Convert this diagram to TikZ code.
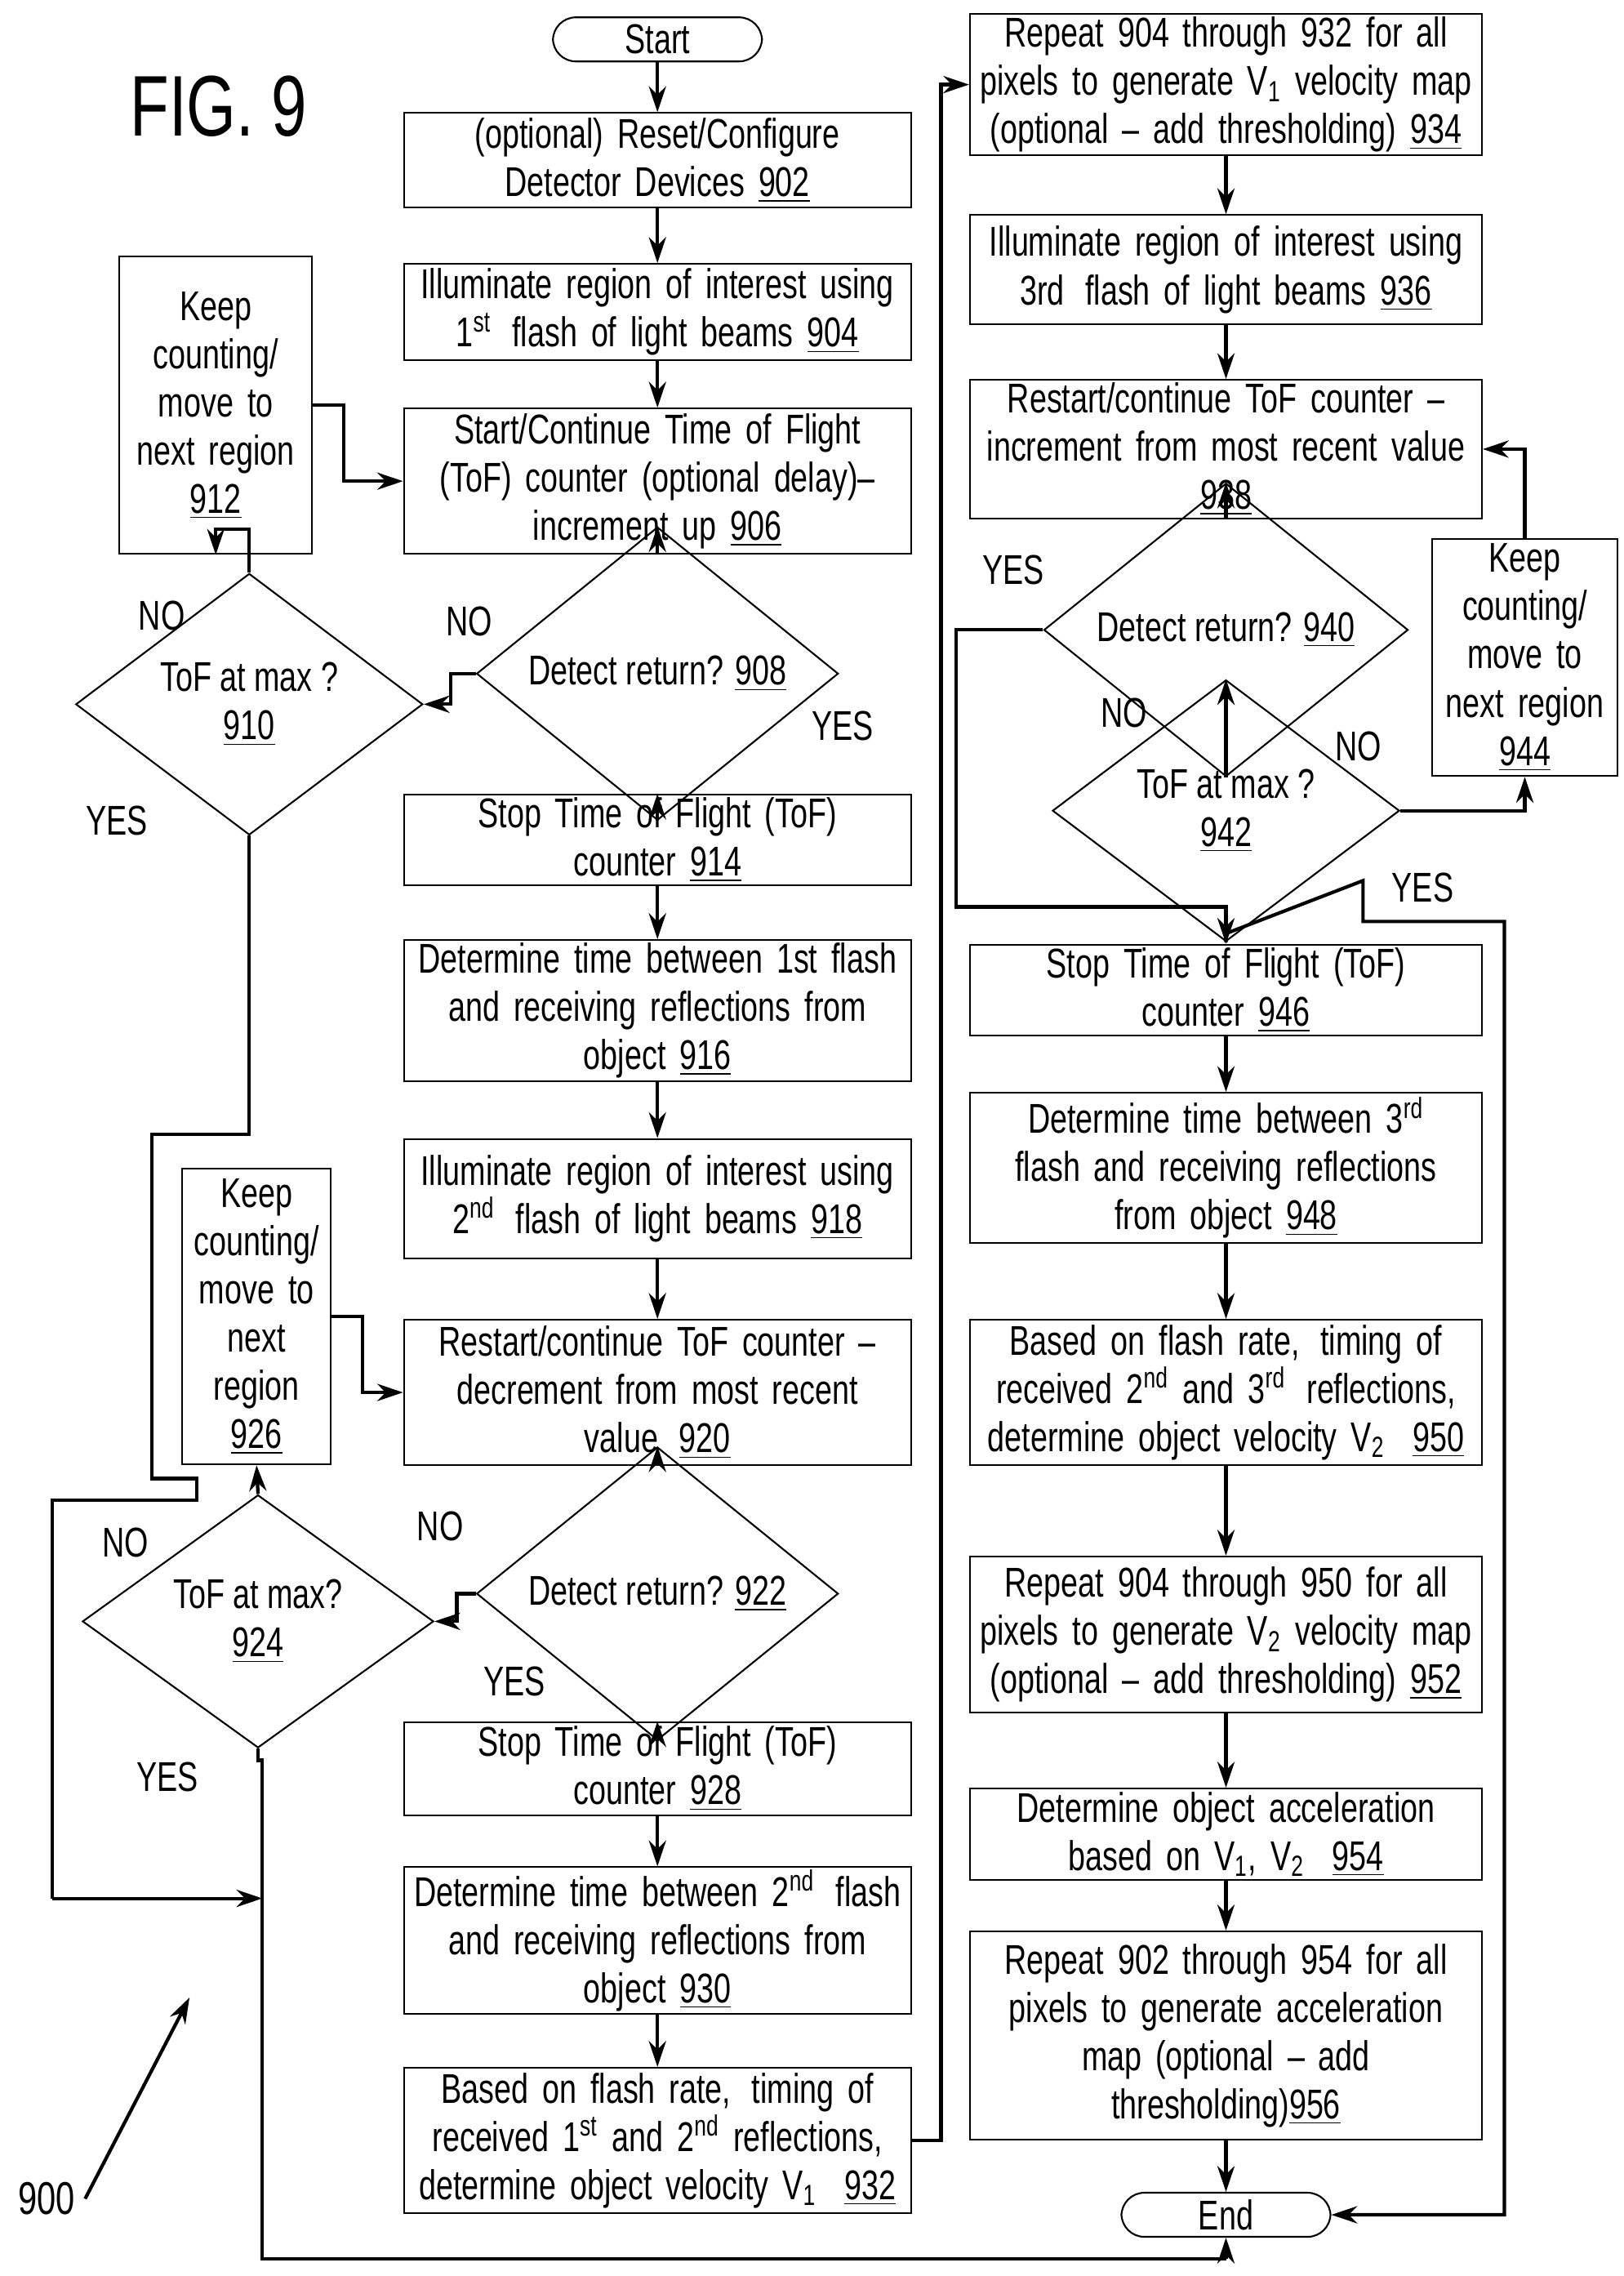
\documentclass[tikz,border=0pt]{standalone}
\usepackage{fontspec}
\setmainfont{Liberation Sans}[FakeStretch=0.74]
\usetikzlibrary{arrows.meta, shapes.geometric, calc}

\begin{document}
\begin{tikzpicture}[
  x=0.01785cm, y=-0.01785cm,
  font=\fontsize{14.5}{16.8}\selectfont,
  box/.style={draw, line width=0.6pt, align=center, inner sep=1pt},
  lbox/.style={box, minimum width=6.21cm, text width=6.1cm},
  rbox/.style={box, minimum width=6.27cm, text width=6.15cm},
  sbox/.style={box, text width=2.2cm},
  term/.style={draw, line width=0.6pt, rounded corners=8pt, minimum width=2.56cm, minimum height=0.54cm, inner sep=0pt},
  dec/.style={draw, diamond, line width=0.6pt, inner sep=0pt, align=center},
  arr/.style={-{Stealth[length=9pt, width=6pt]}, line width=1.2pt},
  ln/.style={line width=1.2pt},
  lbl/.style={font=\fontsize{14.5}{16}\selectfont},
]
\useasboundingbox (0,0) rectangle (1114,1561);

\node[font=\fontsize{30}{30}\selectfont] (fig) at (150,73) {FIG. 9};

% left column
\node[term] (start) at (451,27) {Start};
\node[lbox, minimum height=1.16cm] (b902) at (451,110) {(optional) Reset/Configure\\Detector Devices \underline{902}};
\node[lbox, minimum height=1.18cm] (b904) at (451,214) {Illuminate region of interest using\\1\textsuperscript{st}\, flash of light beams \underline{904}};
\node[lbox, minimum height=1.78cm] (b906) at (451,330) {Start/Continue Time of Flight\\(ToF) counter (optional delay)--\\increment up \underline{906}};
\node[dec, minimum width=4.43cm, minimum height=1.43cm] (d908) at (451,462) {Detect return? \underline{908}};
\node[lbox, minimum height=1.11cm] (b914) at (451,576) {Stop Time of Flight (ToF)\\counter \underline{914}};
\node[lbox, minimum height=1.66cm] (b916) at (451,693) {Determine time between 1st flash\\and receiving reflections from\\object \underline{916}};
\node[lbox, minimum height=1.46cm] (b918) at (451,822) {Illuminate region of interest using\\2\textsuperscript{nd}\, flash of light beams \underline{918}};
\node[lbox, minimum height=1.78cm] (b920) at (451,955) {Restart/continue ToF counter --\\decrement from most recent\\value\, \underline{920}};
\node[dec, minimum width=4.43cm, minimum height=1.43cm] (d922) at (451,1093) {Detect return? \underline{922}};
\node[lbox, minimum height=1.14cm] (b928) at (451,1213) {Stop Time of Flight (ToF)\\counter \underline{928}};
\node[lbox, minimum height=1.66cm] (b930) at (451,1331) {Determine time between 2\textsuperscript{nd}\, flash\\and receiving reflections from\\object \underline{930}};
\node[lbox, minimum height=1.78cm] (b932) at (451,1468) {Based on flash rate,\, timing of\\received 1\textsuperscript{st} and 2\textsuperscript{nd} reflections,\\determine object velocity V\textsubscript{1}\,\, \underline{932}};

% side loops
\node[dec, minimum width=4.25cm, minimum height=2.2cm] (d910) at (171,483) {ToF at max ?\\\underline{910}};
\node[sbox, minimum width=2.36cm, minimum height=3.64cm] (b912) at (148,278) {Keep\\counting/\\move to\\next region\\\underline{912}};
\node[dec, minimum width=4.3cm, minimum height=2.14cm] (d924) at (177,1112) {ToF at max?\\\underline{924}};
\node[sbox, text width=1.7cm, minimum width=1.82cm, minimum height=3.62cm] (b926) at (176,903) {Keep\\counting/\\move to\\next\\region\\\underline{926}};

% right column
\node[rbox, minimum height=1.7cm] (b934) at (841,58) {Repeat 904 through 932 for all\\pixels to generate V\textsubscript{1} velocity map\\(optional -- add thresholding) \underline{934}};
\node[rbox, minimum height=1.34cm] (b936) at (841,185) {Illuminate region of interest using\\3rd\, flash of light beams \underline{936}};
\node[rbox, minimum height=1.66cm] (b938) at (841,308) {Restart/continue ToF counter --\\increment from most recent value\\\underline{938}};
\node[dec, minimum width=4.46cm, minimum height=1.25cm] (d940) at (841,432) {Detect return? \underline{940}};
\node[dec, minimum width=4.25cm, minimum height=1.96cm] (d942) at (841,556) {ToF at max ?\\\underline{942}};
\node[sbox, minimum width=2.21cm, minimum height=2.9cm] (b944) at (1046,451) {Keep\\counting/\\move to\\next region\\\underline{944}};
\node[rbox, minimum height=1.11cm] (b946) at (841,679) {Stop Time of Flight (ToF)\\counter \underline{946}};
\node[rbox, minimum height=1.84cm] (b948) at (841,801) {Determine time between 3\textsuperscript{rd}\\flash and receiving reflections\\from object \underline{948}};
\node[rbox, minimum height=1.78cm] (b950) at (841,955) {Based on flash rate,\, timing of\\received 2\textsuperscript{nd} and 3\textsuperscript{rd}\, reflections,\\determine object velocity V\textsubscript{2}\,\, \underline{950}};
\node[rbox, minimum height=1.91cm] (b952) at (841,1121) {Repeat 904 through 950 for all\\pixels to generate V\textsubscript{2} velocity map\\(optional -- add thresholding) \underline{952}};
\node[rbox, minimum height=1.12cm] (b954) at (841,1258) {Determine object acceleration\\based on V\textsubscript{1}, V\textsubscript{2}\,\, \underline{954}};
\node[rbox, minimum height=2.55cm] (b956) at (841,1396) {Repeat 902 through 954 for all\\pixels to generate acceleration\\map (optional -- add\\thresholding)\underline{956}};
\node[term] (end) at (841,1519) {End};

% labels
\node[lbl] (no908) at (322,426) {NO};
\node[lbl] (yes908) at (578,498) {YES};
\node[lbl] (no910) at (111,422) {NO};
\node[lbl] (yes910) at (80,563) {YES};
\node[lbl] (no922) at (302,1047) {NO};
\node[lbl] (yes922) at (353,1153) {YES};
\node[lbl] (no924) at (86,1058) {NO};
\node[lbl] (yes924) at (115,1219) {YES};
\node[lbl] (yes940) at (695,391) {YES};
\node[lbl] (no940) at (771,489) {NO};
\node[lbl] (no942) at (932,512) {NO};
\node[lbl] (yes942) at (976,609) {YES};
\node[font=\fontsize{16}{16}\selectfont] (n900) at (32,1508) {900};
\coordinate (p900) at (130,1370);

% main arrows
\draw[arr] (start) -- (b902);
\draw[arr] (b902) -- (b904);
\draw[arr] (b904) -- (b906);
\draw[arr] (b906) -- (d908);
\draw[arr] (d908) -- (b914);
\draw[arr] (b914) -- (b916);
\draw[arr] (b916) -- (b918);
\draw[arr] (b918) -- (b920);
\draw[arr] (b920) -- (d922);
\draw[arr] (d922) -- (b928);
\draw[arr] (b928) -- (b930);
\draw[arr] (b930) -- (b932);
\draw[arr] (b934) -- (b936);
\draw[arr] (b936) -- (b938);
\draw[arr] (b938) -- (d940);
\draw[arr] (d940) -- (d942);
\draw[arr] (b946) -- (b948);
\draw[arr] (b948) -- (b950);
\draw[arr] (b950) -- (b952);
\draw[arr] (b952) -- (b954);
\draw[arr] (b954) -- (b956);
\draw[arr] (b956) -- (end);

% loops
\draw[arr] (d908.west) -- ++(-17,0) |- (d910.east);
\draw[arr] (d910.north) -- ++(0,-30) -| (b912.south);
\draw[arr] (b912.east) -- ++(21,0) |- (b906.west);
\draw[arr] (d922.west) -- ++(-13,0) |- (d924.east);
\draw[arr] (d924.north) -- (b926.south);
\draw[arr] (b926.east) -- ++(21,0) |- (b920.west);
\draw[ln] (d910.south) -- (171,778) -- (104,778) -- (104,1014) -- (135,1014) -- (135,1029) -- (36,1029) -- (36,1302);
\draw[arr] (36,1302) -- (180,1302);
\draw[ln] (d924.south) -- ++(0,8) -- ++(3,0) |- (841,1549);
\draw[arr] (841,1549) -- (end.south);
\draw[arr] (b932.east) -- ++(20,0) |- (b934.west);
\draw[arr] (d942.east) -| (b944.south);
\draw[arr] (b944.north) |- (b938.east);
\draw[arr] (d940.west) -- (656,432) |- (841,622) -- (b946.north);
\draw[arr] (d942.south) -- ++(0,-6) -- (935,604) |- (1032,632) |- (end.east);
\draw[arr] (n900.east) -- (p900);
\end{tikzpicture}
\end{document}
